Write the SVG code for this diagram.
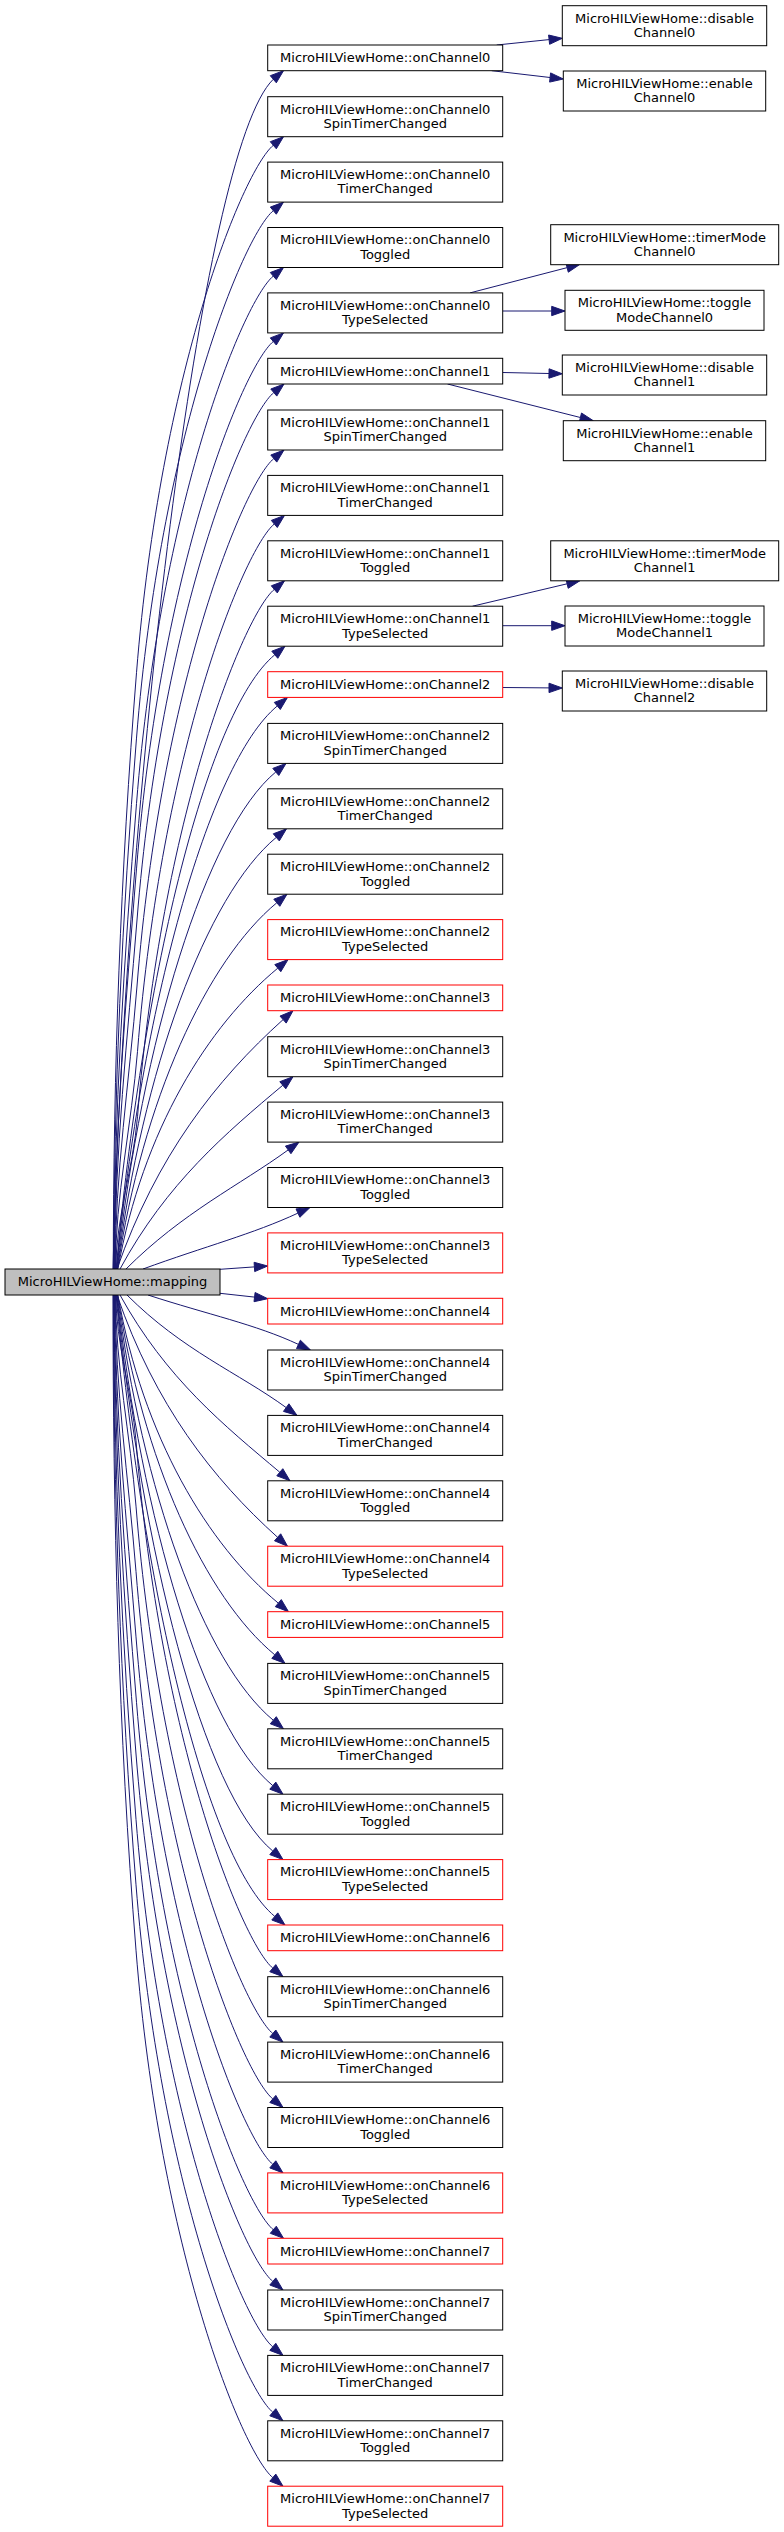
<svg xmlns="http://www.w3.org/2000/svg" width="784" height="2532" viewBox="0 0 784 2532">
<style>
.node rect{fill:#fff;stroke:#000;stroke-width:1}
.node.red rect{stroke:#f00}
.node.root rect{fill:#bfbfbf}
.node text{font-family:"DejaVu Sans",sans-serif;font-size:13px;text-anchor:middle;fill:#000}
.edge path{fill:none;stroke:#191970;stroke-width:1}
.edge polygon{fill:#191970;stroke:#191970;stroke-width:1}
</style>
<rect width="784" height="2532" fill="#fff"/>
<g id="edges">
<g class="edge"><path d="M113,1269 C125,800 200,150 273.3,79.25"/><polygon points="283.5,70.7 276.3,82.8 270.3,75.7"/></g>
<g class="edge"><path d="M113.3,1269 C113.3,1070.2 120.6,871.5 136.5,672.7 C160.5,372.7 242.7,170.95 273.3,145.25"/><polygon points="283.5,136.7 276.3,148.8 270.3,141.7"/></g>
<g class="edge"><path d="M113.7,1269 C113.7,1092 122.3,915.1 136.5,738.1 C160.5,438.1 242.7,236.35 273.3,210.65"/><polygon points="283.5,202.1 276.3,214.2 270.3,207.1"/></g>
<g class="edge"><path d="M114.1,1269 C114.1,1113.8 124.1,958.7 136.5,803.5 C160.5,503.5 242.7,301.75 273.3,276.05"/><polygon points="283.5,267.5 276.3,279.6 270.3,272.5"/></g>
<g class="edge"><path d="M114.4,1269 C114.4,1135.6 125.8,1002.3 136.5,868.9 C160.5,568.9 242.7,367.15 273.3,341.45"/><polygon points="283.5,332.9 276.3,345 270.3,337.9"/></g>
<g class="edge"><path d="M114.7,1269 C114.7,1152.7 127.7,1036.3 137,920 C161,620 243.2,418.25 273.8,392.55"/><polygon points="284,384 276.8,396.1 270.8,389"/></g>
<g class="edge"><path d="M115.1,1269 C115.1,1174.7 129.4,1080.3 137,986 C161,686 243.2,484.25 273.8,458.55"/><polygon points="284,450 276.8,462.1 270.8,455"/></g>
<g class="edge"><path d="M115.4,1269 C115.4,1196.5 131.7,1123.9 137.5,1051.4 C161.5,751.4 243.7,549.65 274.3,523.95"/><polygon points="284.5,515.4 277.3,527.5 271.3,520.4"/></g>
<g class="edge"><path d="M115.8,1269 C115.8,1218.3 133.4,1167.5 137.5,1116.8 C161.5,816.8 243.7,615.05 274.3,589.35"/><polygon points="284.5,580.8 277.3,592.9 271.3,585.8"/></g>
<g class="edge"><path d="M116.2,1269 C141.2,988.7 204.8,712.75 274.8,654.75"/><polygon points="285,646.2 277.8,658.3 271.8,651.2"/></g>
<g class="edge"><path d="M116.4,1269 C141.4,1011.8 207.3,763.95 277.3,705.95"/><polygon points="287.5,697.4 280.3,709.5 274.3,702.4"/></g>
<g class="edge"><path d="M116.8,1269 C141.8,1041.5 205.8,829.95 275.8,771.95"/><polygon points="286,763.4 278.8,775.5 272.8,768.4"/></g>
<g class="edge"><path d="M117.2,1269 C142.2,1070.9 206.3,895.35 276.3,837.35"/><polygon points="286.5,828.8 279.3,840.9 273.3,833.8"/></g>
<g class="edge"><path d="M117.5,1269 C142.5,1100.3 206.8,960.75 276.8,902.75"/><polygon points="287,894.2 279.8,906.3 273.8,899.2"/></g>
<g class="edge"><path d="M117.9,1269 C142.9,1129.8 207.8,1026.15 277.8,968.15"/><polygon points="288,959.6 280.8,971.7 274.8,964.6"/></g>
<g class="edge"><path d="M117,1269 C156.6,1155.7 216.2,1079.8 283.1,1019.6"/><polygon points="293,1010.7 286.2,1023.1 280,1016.1"/></g>
<g class="edge"><path d="M120,1269 C166.7,1182.9 226.4,1132.6 282.8,1085.25"/><polygon points="293,1076.7 285.8,1088.8 279.8,1081.7"/></g>
<g class="edge"><path d="M126,1269 C182.6,1212.4 239.7,1185.2 288.2,1149.9"/><polygon points="299,1142.1 290.95,1153.7 285.45,1146.1"/></g>
<g class="edge"><path d="M143,1269 C205,1246.4 253.1,1234 297.95,1213.1"/><polygon points="310,1207.5 299.9,1217.3 296,1208.9"/></g>
<g class="edge"><path d="M220,1269.3 L254.4,1266.9"/><polygon points="267.7,1266 254.7,1271.6 254.1,1262.3"/></g>
<g class="edge"><path d="M220,1293.3 L254.5,1297.1"/><polygon points="267.7,1298.7 254,1301.7 255.1,1292.5"/></g>
<g class="edge"><path d="M148,1295 C208.3,1314.6 255.4,1324.3 298.45,1344.4"/><polygon points="310.5,1350 296.5,1348.6 300.4,1340.2"/></g>
<g class="edge"><path d="M127,1295 C182.2,1350.2 238.9,1373.2 286.2,1407.6"/><polygon points="297,1415.4 283.45,1411.4 288.95,1403.8"/></g>
<g class="edge"><path d="M120,1295 C166,1378.7 225,1426.2 279.8,1472.25"/><polygon points="290,1480.8 276.8,1475.8 282.8,1468.7"/></g>
<g class="edge"><path d="M117,1295 C154.9,1405 212.8,1479 277.6,1537.3"/><polygon points="287.5,1546.2 274.5,1540.8 280.7,1533.8"/></g>
<g class="edge"><path d="M117.9,1295 C142.9,1437.5 208.3,1545.15 278.3,1603.15"/><polygon points="288.5,1611.7 275.3,1606.7 281.3,1599.6"/></g>
<g class="edge"><path d="M117.6,1295 C142.6,1460.8 204.8,1596.85 274.8,1654.85"/><polygon points="285,1663.4 271.8,1658.4 277.8,1651.3"/></g>
<g class="edge"><path d="M117.2,1295 C142.2,1490.2 203.3,1662.25 273.3,1720.25"/><polygon points="283.5,1728.8 270.3,1723.8 276.3,1716.7"/></g>
<g class="edge"><path d="M116.8,1295 C141.8,1519.6 202.8,1727.65 272.8,1785.65"/><polygon points="283,1794.2 269.8,1789.2 275.8,1782.1"/></g>
<g class="edge"><path d="M116.5,1295 C141.5,1549.1 202.8,1793.05 272.8,1851.05"/><polygon points="283,1859.6 269.8,1854.6 275.8,1847.5"/></g>
<g class="edge"><path d="M116.1,1295 C141.1,1578.5 204.8,1858.45 274.8,1916.45"/><polygon points="285,1925 271.8,1920 277.8,1912.9"/></g>
<g class="edge"><path d="M115.8,1295 C115.8,1343.6 132.1,1392.1 136,1440.7 C160,1740.7 242.2,1942.45 272.8,1968.15"/><polygon points="283,1976.7 269.8,1971.7 275.8,1964.6"/></g>
<g class="edge"><path d="M115.5,1295 C115.5,1365.4 130.4,1435.7 136,1506.1 C160,1806.1 242.2,2007.85 272.8,2033.55"/><polygon points="283,2042.1 269.8,2037.1 275.8,2030"/></g>
<g class="edge"><path d="M115.1,1295 C115.1,1387.2 128.6,1479.3 136,1571.5 C160,1871.5 242.2,2073.25 272.8,2098.95"/><polygon points="283,2107.5 269.8,2102.5 275.8,2095.4"/></g>
<g class="edge"><path d="M114.7,1295 C114.7,1409 126.9,1522.9 136,1636.9 C160,1936.9 242.2,2138.65 272.8,2164.35"/><polygon points="283,2172.9 269.8,2167.9 275.8,2160.8"/></g>
<g class="edge"><path d="M114.4,1295 C114.4,1430.8 125.6,1566.5 136.5,1702.3 C160.5,2002.3 242.7,2204.05 273.3,2229.75"/><polygon points="283.5,2238.3 270.3,2233.3 276.3,2226.2"/></g>
<g class="edge"><path d="M114.1,1295 C114.1,1448 123.7,1601 136,1754 C160,2054 242.2,2255.75 272.8,2281.45"/><polygon points="283,2290 269.8,2285 275.8,2277.9"/></g>
<g class="edge"><path d="M113.7,1295 C113.7,1469.8 122,1644.6 136,1819.4 C160,2119.4 242.2,2321.15 272.8,2346.85"/><polygon points="283,2355.4 269.8,2350.4 275.8,2343.3"/></g>
<g class="edge"><path d="M113.4,1295 C113.4,1491.6 120.3,1688.2 136,1884.8 C160,2184.8 242.2,2386.55 272.8,2412.25"/><polygon points="283,2420.8 269.8,2415.8 275.8,2408.7"/></g>
<g class="edge"><path d="M113,1295 C113,1513.4 118.5,1731.8 136,1950.2 C160,2250.2 242.2,2451.95 272.8,2477.65"/><polygon points="283,2486.2 269.8,2481.2 275.8,2474.1"/></g>
<g class="edge"><path d="M496.7,45 L549.1,39.6"/><polygon points="562.3,38.3 549.6,44.3 548.6,35"/></g>
<g class="edge"><path d="M491.7,70.7 L550.1,77.5"/><polygon points="563.3,79 549.6,82.1 550.6,72.9"/></g>
<g class="edge"><path d="M470,292.9 L567.1,267.65"/><polygon points="580,264.3 568.3,272.2 565.9,263.1"/></g>
<g class="edge"><path d="M502.7,311 L551.7,311"/><polygon points="565,311 551.7,315.67 551.7,306.33"/></g>
<g class="edge"><path d="M502.7,372.5 L549,373.5"/><polygon points="562.3,373.8 548.9,378.2 549.1,368.8"/></g>
<g class="edge"><path d="M447.5,384 L580.4,417.5"/><polygon points="593.3,420.7 579.3,422 581.5,413"/></g>
<g class="edge"><path d="M472.5,606.2 L567.1,583.8"/><polygon points="580,580.7 568.2,588.3 566,579.3"/></g>
<g class="edge"><path d="M502.7,625.7 L551.7,625.7"/><polygon points="565,625.7 551.7,630.37 551.7,621.03"/></g>
<g class="edge"><path d="M502.7,687.5 L549,687.9"/><polygon points="562.3,688 549,692.6 549,683.2"/></g>
</g>
<g id="nodes">
<g class="node root" id="mapping"><rect x="5" y="1269" width="215" height="26"/><text x="112.5" y="1286.3">MicroHILViewHome::mapping</text></g>

<g class="node" id="onChannel0"><rect x="267.7" y="45" width="235" height="25.7"/><text x="385.2" y="62.3">MicroHILViewHome::onChannel0</text></g>
<g class="node" id="onChannel0SpinTimerChanged"><rect x="267.7" y="96.7" width="235" height="40"/><text x="385.2" y="113.5">MicroHILViewHome::onChannel0</text><text x="385.2" y="128">SpinTimerChanged</text></g>
<g class="node" id="onChannel0TimerChanged"><rect x="267.7" y="162.1" width="235" height="40"/><text x="385.2" y="178.9">MicroHILViewHome::onChannel0</text><text x="385.2" y="193.4">TimerChanged</text></g>
<g class="node" id="onChannel0Toggled"><rect x="267.7" y="227.5" width="235" height="40"/><text x="385.2" y="244.3">MicroHILViewHome::onChannel0</text><text x="385.2" y="258.8">Toggled</text></g>
<g class="node" id="onChannel0TypeSelected"><rect x="267.7" y="292.9" width="235" height="40"/><text x="385.2" y="309.7">MicroHILViewHome::onChannel0</text><text x="385.2" y="324.2">TypeSelected</text></g>

<g class="node" id="onChannel1"><rect x="267.7" y="358.3" width="235" height="25.7"/><text x="385.2" y="375.6">MicroHILViewHome::onChannel1</text></g>
<g class="node" id="onChannel1SpinTimerChanged"><rect x="267.7" y="410" width="235" height="40"/><text x="385.2" y="426.8">MicroHILViewHome::onChannel1</text><text x="385.2" y="441.3">SpinTimerChanged</text></g>
<g class="node" id="onChannel1TimerChanged"><rect x="267.7" y="475.4" width="235" height="40"/><text x="385.2" y="492.2">MicroHILViewHome::onChannel1</text><text x="385.2" y="506.7">TimerChanged</text></g>
<g class="node" id="onChannel1Toggled"><rect x="267.7" y="540.8" width="235" height="40"/><text x="385.2" y="557.6">MicroHILViewHome::onChannel1</text><text x="385.2" y="572.1">Toggled</text></g>
<g class="node" id="onChannel1TypeSelected"><rect x="267.7" y="606.2" width="235" height="40"/><text x="385.2" y="623">MicroHILViewHome::onChannel1</text><text x="385.2" y="637.5">TypeSelected</text></g>

<g class="node red" id="onChannel2"><rect x="267.7" y="671.7" width="235" height="25.7"/><text x="385.2" y="689">MicroHILViewHome::onChannel2</text></g>
<g class="node" id="onChannel2SpinTimerChanged"><rect x="267.7" y="723.4" width="235" height="40"/><text x="385.2" y="740.2">MicroHILViewHome::onChannel2</text><text x="385.2" y="754.7">SpinTimerChanged</text></g>
<g class="node" id="onChannel2TimerChanged"><rect x="267.7" y="788.8" width="235" height="40"/><text x="385.2" y="805.6">MicroHILViewHome::onChannel2</text><text x="385.2" y="820.1">TimerChanged</text></g>
<g class="node" id="onChannel2Toggled"><rect x="267.7" y="854.2" width="235" height="40"/><text x="385.2" y="871">MicroHILViewHome::onChannel2</text><text x="385.2" y="885.5">Toggled</text></g>
<g class="node red" id="onChannel2TypeSelected"><rect x="267.7" y="919.6" width="235" height="40"/><text x="385.2" y="936.4">MicroHILViewHome::onChannel2</text><text x="385.2" y="950.9">TypeSelected</text></g>

<g class="node red" id="onChannel3"><rect x="267.7" y="985" width="235" height="25.7"/><text x="385.2" y="1002.3">MicroHILViewHome::onChannel3</text></g>
<g class="node" id="onChannel3SpinTimerChanged"><rect x="267.7" y="1036.7" width="235" height="40"/><text x="385.2" y="1053.5">MicroHILViewHome::onChannel3</text><text x="385.2" y="1068">SpinTimerChanged</text></g>
<g class="node" id="onChannel3TimerChanged"><rect x="267.7" y="1102.1" width="235" height="40"/><text x="385.2" y="1118.9">MicroHILViewHome::onChannel3</text><text x="385.2" y="1133.4">TimerChanged</text></g>
<g class="node" id="onChannel3Toggled"><rect x="267.7" y="1167.5" width="235" height="40"/><text x="385.2" y="1184.3">MicroHILViewHome::onChannel3</text><text x="385.2" y="1198.8">Toggled</text></g>
<g class="node red" id="onChannel3TypeSelected"><rect x="267.7" y="1232.9" width="235" height="40"/><text x="385.2" y="1249.7">MicroHILViewHome::onChannel3</text><text x="385.2" y="1264.2">TypeSelected</text></g>

<g class="node red" id="onChannel4"><rect x="267.7" y="1298.3" width="235" height="25.7"/><text x="385.2" y="1315.6">MicroHILViewHome::onChannel4</text></g>
<g class="node" id="onChannel4SpinTimerChanged"><rect x="267.7" y="1350" width="235" height="40"/><text x="385.2" y="1366.8">MicroHILViewHome::onChannel4</text><text x="385.2" y="1381.3">SpinTimerChanged</text></g>
<g class="node" id="onChannel4TimerChanged"><rect x="267.7" y="1415.4" width="235" height="40"/><text x="385.2" y="1432.2">MicroHILViewHome::onChannel4</text><text x="385.2" y="1446.7">TimerChanged</text></g>
<g class="node" id="onChannel4Toggled"><rect x="267.7" y="1480.8" width="235" height="40"/><text x="385.2" y="1497.6">MicroHILViewHome::onChannel4</text><text x="385.2" y="1512.1">Toggled</text></g>
<g class="node red" id="onChannel4TypeSelected"><rect x="267.7" y="1546.2" width="235" height="40"/><text x="385.2" y="1563">MicroHILViewHome::onChannel4</text><text x="385.2" y="1577.5">TypeSelected</text></g>

<g class="node red" id="onChannel5"><rect x="267.7" y="1611.7" width="235" height="25.7"/><text x="385.2" y="1629">MicroHILViewHome::onChannel5</text></g>
<g class="node" id="onChannel5SpinTimerChanged"><rect x="267.7" y="1663.4" width="235" height="40"/><text x="385.2" y="1680.2">MicroHILViewHome::onChannel5</text><text x="385.2" y="1694.7">SpinTimerChanged</text></g>
<g class="node" id="onChannel5TimerChanged"><rect x="267.7" y="1728.8" width="235" height="40"/><text x="385.2" y="1745.6">MicroHILViewHome::onChannel5</text><text x="385.2" y="1760.1">TimerChanged</text></g>
<g class="node" id="onChannel5Toggled"><rect x="267.7" y="1794.2" width="235" height="40"/><text x="385.2" y="1811">MicroHILViewHome::onChannel5</text><text x="385.2" y="1825.5">Toggled</text></g>
<g class="node red" id="onChannel5TypeSelected"><rect x="267.7" y="1859.6" width="235" height="40"/><text x="385.2" y="1876.4">MicroHILViewHome::onChannel5</text><text x="385.2" y="1890.9">TypeSelected</text></g>

<g class="node red" id="onChannel6"><rect x="267.7" y="1925" width="235" height="25.7"/><text x="385.2" y="1942.3">MicroHILViewHome::onChannel6</text></g>
<g class="node" id="onChannel6SpinTimerChanged"><rect x="267.7" y="1976.7" width="235" height="40"/><text x="385.2" y="1993.5">MicroHILViewHome::onChannel6</text><text x="385.2" y="2008">SpinTimerChanged</text></g>
<g class="node" id="onChannel6TimerChanged"><rect x="267.7" y="2042.1" width="235" height="40"/><text x="385.2" y="2058.9">MicroHILViewHome::onChannel6</text><text x="385.2" y="2073.4">TimerChanged</text></g>
<g class="node" id="onChannel6Toggled"><rect x="267.7" y="2107.5" width="235" height="40"/><text x="385.2" y="2124.3">MicroHILViewHome::onChannel6</text><text x="385.2" y="2138.8">Toggled</text></g>
<g class="node red" id="onChannel6TypeSelected"><rect x="267.7" y="2172.9" width="235" height="40"/><text x="385.2" y="2189.7">MicroHILViewHome::onChannel6</text><text x="385.2" y="2204.2">TypeSelected</text></g>

<g class="node red" id="onChannel7"><rect x="267.7" y="2238.3" width="235" height="25.7"/><text x="385.2" y="2255.6">MicroHILViewHome::onChannel7</text></g>
<g class="node" id="onChannel7SpinTimerChanged"><rect x="267.7" y="2290" width="235" height="40"/><text x="385.2" y="2306.8">MicroHILViewHome::onChannel7</text><text x="385.2" y="2321.3">SpinTimerChanged</text></g>
<g class="node" id="onChannel7TimerChanged"><rect x="267.7" y="2355.4" width="235" height="40"/><text x="385.2" y="2372.2">MicroHILViewHome::onChannel7</text><text x="385.2" y="2386.7">TimerChanged</text></g>
<g class="node" id="onChannel7Toggled"><rect x="267.7" y="2420.8" width="235" height="40"/><text x="385.2" y="2437.6">MicroHILViewHome::onChannel7</text><text x="385.2" y="2452.1">Toggled</text></g>
<g class="node red" id="onChannel7TypeSelected"><rect x="267.7" y="2486.2" width="235" height="40"/><text x="385.2" y="2503">MicroHILViewHome::onChannel7</text><text x="385.2" y="2517.5">TypeSelected</text></g>

<g class="node" id="disableChannel0"><rect x="562.3" y="5.7" width="204.4" height="40"/><text x="664.5" y="22.5">MicroHILViewHome::disable</text><text x="664.5" y="37">Channel0</text></g>
<g class="node" id="enableChannel0"><rect x="563.3" y="71" width="202.4" height="40"/><text x="664.5" y="87.8">MicroHILViewHome::enable</text><text x="664.5" y="102.3">Channel0</text></g>
<g class="node" id="timerModeChannel0"><rect x="550.7" y="224.7" width="228" height="40"/><text x="664.7" y="241.5">MicroHILViewHome::timerMode</text><text x="664.7" y="256">Channel0</text></g>
<g class="node" id="toggleModeChannel0"><rect x="565" y="290.3" width="199" height="40"/><text x="664.5" y="307.1">MicroHILViewHome::toggle</text><text x="664.5" y="321.6">ModeChannel0</text></g>
<g class="node" id="disableChannel1"><rect x="562.3" y="355" width="204.4" height="40"/><text x="664.5" y="371.8">MicroHILViewHome::disable</text><text x="664.5" y="386.3">Channel1</text></g>
<g class="node" id="enableChannel1"><rect x="563.3" y="420.7" width="202.4" height="40"/><text x="664.5" y="437.5">MicroHILViewHome::enable</text><text x="664.5" y="452">Channel1</text></g>
<g class="node" id="timerModeChannel1"><rect x="550.7" y="540.8" width="228" height="40"/><text x="664.7" y="557.6">MicroHILViewHome::timerMode</text><text x="664.7" y="572.1">Channel1</text></g>
<g class="node" id="toggleModeChannel1"><rect x="565" y="606" width="199" height="40"/><text x="664.5" y="622.8">MicroHILViewHome::toggle</text><text x="664.5" y="637.3">ModeChannel1</text></g>
<g class="node" id="disableChannel2"><rect x="562.3" y="671" width="204.4" height="40"/><text x="664.5" y="687.8">MicroHILViewHome::disable</text><text x="664.5" y="702.3">Channel2</text></g>
</g>
</svg>
